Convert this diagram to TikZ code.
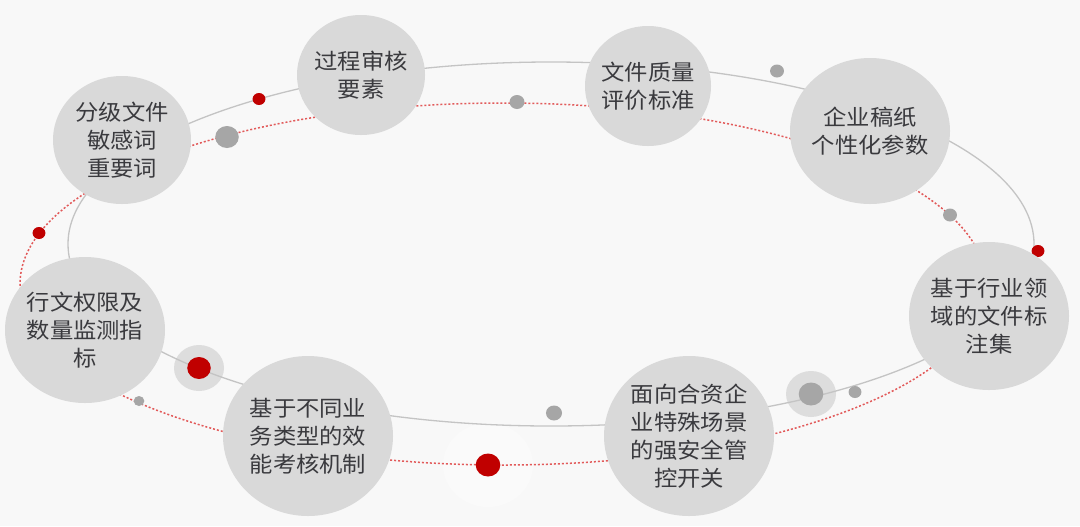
\documentclass[tikz,border=0pt]{standalone}
\usepackage{fontspec}
\usepackage{tikz}
\usetikzlibrary{shapes.geometric}
\newfontfamily\cjk[FakeStretch=1.07]{Noto Sans CJK SC}
\definecolor{mybg}{RGB}{248,248,248}
\definecolor{mydisc}{RGB}{217,217,217}
\definecolor{myline}{RGB}{196,196,196}
\definecolor{myred}{RGB}{192,0,0}
\definecolor{mydash}{RGB}{226,90,90}
\definecolor{mydot}{RGB}{166,166,166}
\definecolor{myhalo}{RGB}{221,221,221}
\definecolor{mytext}{RGB}{58,58,62}

\begin{document}
\begin{tikzpicture}[x=0.5pt,y=-0.5pt,
  disc/.style={ellipse,fill=mydisc,inner sep=-4pt,align=center,text=mytext,
    font=\cjk\fontsize{10.9}{14}\selectfont}]
\fill[mybg] (0,0) rectangle (1080,526);
\fill[white,opacity=0.3] (488,465) ellipse [x radius=45, y radius=42];
\foreach \x/\y in {199/368,811/394}
  \fill[myhalo] (\x,\y) ellipse [x radius=25, y radius=23];
\draw[myline,line width=0.65pt] (551,244) ellipse [x radius=483, y radius=182];
\draw[mydash,line width=0.75pt,dash pattern=on 1pt off 1pt] (503,284) ellipse [x radius=483, y radius=181];
\foreach \x/\y/\r in {259/99/6,39/233/6,1038/251/6,199/368/11,488/465/11.5}
  \fill[myred] (\x,\y) ellipse [x radius=1.07*\r, y radius=\r];
\foreach \x/\y/\r in {227/137/11,517/102/7,777/71/6.5,950/215/6.5,811/394/11.5,855/392/6,554/413/7.5,139/401/5}
  \fill[mydot] (\x,\y) ellipse [x radius=1.07*\r, y radius=\r];
\node[disc,minimum width=69pt,minimum height=64pt] (grade) at (122,140) {分级文件\\敏感词\\重要词};
\node[disc,minimum width=64pt,minimum height=60pt] (audit) at (361,75) {过程审核\\要素};
\node[disc,minimum width=63pt,minimum height=60pt] (quality) at (648,86) {文件质量\\评价标准};
\node[disc,minimum width=80pt,minimum height=73pt] (paper) at (870,131) {企业稿纸\\个性化参数};
\node[disc,minimum width=80pt,minimum height=74pt] (label) at (989,316) {基于行业领\\域的文件标\\注集};
\node[disc,minimum width=85pt,minimum height=80pt] (switch) at (689,436) {面向合资企\\业特殊场景\\的强安全管\\控开关};
\node[disc,minimum width=85pt,minimum height=80pt] (perf) at (308,436) {基于不同业\\务类型的效\\能考核机制};
\node[disc,minimum width=80pt,minimum height=73pt] (limit) at (85,330) {行文权限及\\数量监测指\\标};
\end{tikzpicture}
\end{document}
